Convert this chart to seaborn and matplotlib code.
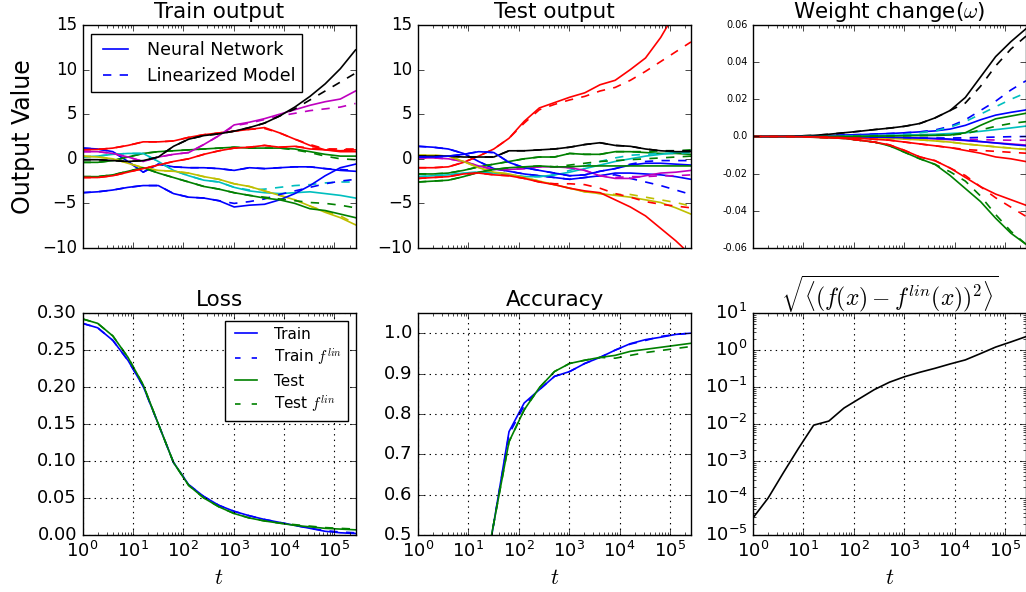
import numpy as np
import pandas as pd
import matplotlib
matplotlib.use('Agg')
import matplotlib.pyplot as plt
from matplotlib.lines import Line2D
import seaborn as sns

plt.style.use('classic')
plt.rcParams['figure.facecolor'] = 'white'
plt.rcParams['savefig.facecolor'] = 'white'
plt.rcParams['font.size'] = 12
plt.rcParams['legend.fancybox'] = False
plt.rcParams['lines.linewidth'] = 1.2

# training steps (powers of two)
steps = [1, 2, 4, 8, 16, 32, 64, 128, 256, 512, 1024, 2048, 4096, 8192,
         16384, 32768, 65536, 131072, 262144]
colors = ['b', 'g', 'r', 'c', 'm', 'y', 'k', 'b', 'g', 'r']

# output of the network on training points, per class
train_nn = [
    [1.2, 1.1, 0.8, -0.3, -1.5, -0.6, -0.9, -1.0, -1.0, -1.1, -1.3, -1.0, -1.1, -1.0, -0.9, -0.9, -1.1, -1.3, -1.4],
    [-0.4, -0.4, -0.2, 0.2, 0.6, 0.8, 0.9, 1.0, 1.1, 1.2, 1.3, 1.2, 1.2, 1.2, 1.1, 0.8, 0.5, 0.3, 0.3],
    [1.0, 1.05, 1.2, 1.5, 1.9, 1.9, 2.0, 2.4, 2.7, 2.9, 3.1, 3.3, 3.5, 2.9, 2.2, 1.5, 1.0, 0.8, 0.8],
    [0.2, 0.3, 0.5, 0.6, 0.6, -0.3, -1.3, -1.9, -2.4, -2.6, -3.2, -3.6, -3.8, -3.9, -3.8, -3.7, -3.9, -4.1, -4.4],
    [0.8, 0.8, 0.6, 0.2, -0.3, 0.2, 0.5, 0.7, 1.6, 2.6, 3.8, 4.1, 4.5, 5.0, 5.5, 6.0, 6.4, 6.7, 7.6],
    [0.3, 0.2, 0.0, -0.5, -1.0, -1.3, -1.4, -1.6, -2.0, -2.3, -2.8, -3.1, -3.6, -4.1, -4.6, -5.3, -6.0, -6.6, -7.4],
    [-0.1, -0.1, -0.2, -0.3, -0.2, 0.2, 1.4, 2.2, 2.6, 2.8, 3.1, 3.5, 4.0, 4.8, 5.8, 7.0, 8.4, 10.1, 12.2],
    [-3.8, -3.7, -3.5, -3.2, -3.0, -3.0, -3.9, -4.3, -4.4, -4.7, -5.4, -5.2, -5.1, -4.6, -3.9, -3.0, -1.9, -1.0, -0.6],
    [-2.0, -2.0, -1.8, -1.4, -1.0, -1.6, -2.1, -2.6, -3.1, -3.4, -3.8, -4.1, -4.4, -4.6, -5.0, -5.6, -5.8, -6.2, -6.6],
    [-2.1, -2.1, -1.9, -1.5, -1.1, -0.7, -0.3, 0.0, 0.5, 0.9, 1.2, 1.3, 1.5, 1.3, 1.4, 1.1, 1.0, 0.9, 1.0],
]
train_lin = [
    [1.2, 1.1, 0.8, -0.3, -1.5, -0.6, -0.9, -1.0, -1.0, -1.1, -1.3, -1.0, -1.1, -1.0, -0.9, -0.9, -1.1, -1.2, -1.3],
    [-0.4, -0.4, -0.2, 0.2, 0.6, 0.8, 0.9, 1.0, 1.1, 1.2, 1.3, 1.2, 1.2, 1.2, 1.0, 0.7, 0.3, 0.0, -0.1],
    [1.0, 1.05, 1.2, 1.5, 1.9, 1.9, 2.0, 2.4, 2.7, 2.9, 3.1, 3.3, 3.4, 2.9, 2.2, 1.6, 1.1, 1.0, 1.0],
    [0.2, 0.3, 0.5, 0.6, 0.6, -0.3, -1.3, -1.9, -2.4, -2.6, -3.2, -3.5, -3.4, -3.2, -3.0, -2.9, -2.7, -2.6, -2.6],
    [0.8, 0.8, 0.6, 0.2, -0.3, 0.2, 0.5, 0.7, 1.6, 2.6, 3.7, 4.0, 4.4, 4.8, 5.1, 5.4, 5.6, 5.8, 6.2],
    [0.3, 0.2, 0.0, -0.5, -1.0, -1.3, -1.4, -1.6, -2.0, -2.3, -2.8, -3.1, -3.6, -4.1, -4.6, -5.3, -5.9, -6.4, -7.3],
    [-0.1, -0.1, -0.2, -0.3, -0.2, 0.2, 1.4, 2.2, 2.6, 2.8, 3.1, 3.5, 4.0, 4.8, 5.6, 6.6, 7.6, 8.6, 9.6],
    [-3.8, -3.7, -3.5, -3.2, -3.0, -3.0, -3.9, -4.3, -4.4, -4.7, -5.0, -4.8, -4.5, -4.0, -3.6, -3.2, -2.8, -2.5, -2.3],
    [-2.0, -2.0, -1.8, -1.4, -1.0, -1.6, -2.1, -2.6, -3.1, -3.4, -3.8, -4.1, -4.3, -4.5, -4.7, -4.9, -5.0, -5.2, -5.5],
    [-2.1, -2.1, -1.9, -1.5, -1.1, -0.7, -0.3, 0.0, 0.5, 0.9, 1.2, 1.3, 1.5, 1.3, 1.4, 1.2, 1.1, 1.1, 1.1],
]

# output on test points
test_nn = [
    [1.4, 1.3, 1.1, 0.6, -0.3, -1.1, -1.4, -1.7, -1.9, -2.1, -2.3, -2.1, -1.9, -1.6, -1.6, -1.7, -1.8, -2.0, -2.3],
    [-1.7, -1.7, -1.6, -1.3, -0.9, -0.6, -0.3, 0.0, 0.2, 0.2, 0.6, 0.5, 0.5, 0.8, 0.8, 0.7, 0.6, 0.6, 0.5],
    [-1.0, -1.0, -0.9, -0.4, 0.3, 1.1, 2.3, 4.2, 5.7, 6.3, 6.9, 7.4, 8.3, 8.8, 10.0, 11.3, 13.6, 16.5, 19.5],
    [-2.0, -1.9, -1.8, -1.6, -1.5, -1.6, -1.8, -2.0, -2.0, -1.8, -1.5, -1.1, -0.7, -0.3, 0.0, 0.3, 0.5, 0.7, 0.9],
    [0.1, 0.1, 0.0, -0.3, -0.8, -1.2, -1.2, -1.1, -0.9, -0.9, -1.0, -1.3, -1.9, -2.2, -2.2, -1.9, -1.6, -1.5, -1.3],
    [0.4, 0.4, 0.3, -0.3, -1.0, -1.5, -1.7, -2.1, -2.5, -2.9, -3.3, -3.7, -3.9, -4.1, -4.3, -4.6, -4.9, -5.5, -6.2],
    [0.3, 0.3, 0.3, 0.2, 0.2, 0.2, 0.9, 0.9, 1.0, 1.1, 1.3, 1.6, 1.8, 1.5, 1.4, 1.1, 0.9, 0.8, 0.8],
    [0.2, 0.2, 0.3, 0.5, 0.8, 0.7, -0.4, -1.0, -1.3, -1.6, -1.9, -1.8, -1.4, -1.1, -0.7, -0.5, -0.5, -0.6, -0.7],
    [-2.6, -2.5, -2.4, -2.0, -1.5, -1.2, -1.0, -0.9, -0.8, -0.9, -0.9, -0.8, -0.8, -0.8, -0.8, -0.8, -0.8, -0.8, -0.8],
    [-2.2, -2.1, -2.0, -1.7, -1.6, -1.8, -1.9, -2.2, -2.6, -2.9, -3.3, -3.6, -3.8, -4.6, -5.4, -6.4, -7.8, -9.2, -10.8],
]
test_lin = [
    [1.4, 1.3, 1.1, 0.6, -0.3, -1.1, -1.4, -1.7, -1.9, -2.1, -2.3, -2.1, -1.9, -1.8, -2.2, -2.6, -3.0, -3.5, -4.0],
    [-1.7, -1.7, -1.6, -1.3, -0.9, -0.6, -0.3, 0.0, 0.2, 0.2, 0.6, 0.5, 0.5, 0.8, 0.8, 0.8, 0.9, 0.9, 1.0],
    [-1.0, -1.0, -0.9, -0.4, 0.3, 1.1, 2.3, 4.0, 5.5, 6.1, 6.6, 7.0, 7.6, 8.0, 8.8, 9.8, 10.9, 12.0, 13.1],
    [-2.0, -1.9, -1.8, -1.6, -1.5, -1.6, -1.8, -2.0, -2.0, -1.8, -1.3, -0.8, -0.3, 0.1, 0.4, 0.5, 0.6, 0.6, 0.7],
    [0.1, 0.1, 0.0, -0.3, -0.8, -1.2, -1.2, -1.1, -0.9, -0.9, -1.0, -1.3, -1.9, -2.1, -2.0, -2.0, -1.9, -1.9, -1.8],
    [0.4, 0.4, 0.3, -0.3, -1.0, -1.5, -1.7, -2.1, -2.5, -2.9, -3.3, -3.7, -3.9, -4.0, -4.0, -4.3, -4.6, -4.9, -5.3],
    [0.3, 0.3, 0.3, 0.2, 0.2, 0.2, 0.9, 0.9, 1.0, 1.1, 1.3, 1.6, 1.8, 1.5, 1.4, 1.1, 0.9, 0.9, 0.9],
    [0.2, 0.2, 0.3, 0.5, 0.8, 0.7, -0.4, -1.0, -1.3, -1.6, -1.9, -1.8, -1.4, -1.1, -0.6, -0.3, -0.2, -0.2, -0.2],
    [-2.6, -2.5, -2.4, -2.0, -1.5, -1.2, -1.0, -0.9, -0.8, -0.9, -0.7, -0.5, -0.3, -0.2, -0.1, 0.0, 0.1, 0.2, 0.3],
    [-2.2, -2.1, -2.0, -1.7, -1.6, -1.8, -1.9, -2.2, -2.6, -2.8, -2.8, -2.9, -3.3, -3.9, -4.3, -4.8, -5.1, -5.3, -5.5],
]

# change of a few weights
weight_nn = [
    [0, 0, 0.0001, 0.0002, 0.0003, 0.0005, 0.0008, 0.001, 0.0013, 0.0016, 0.002, 0.0025, 0.003, 0.004, 0.006, 0.009, 0.0115, 0.013, 0.0143],
    [0, 0, -0.0001, -0.0002, -0.0004, -0.0007, -0.001, -0.002, -0.003, -0.005, -0.0085, -0.012, -0.015, -0.021, -0.028, -0.035, -0.044, -0.052, -0.058],
    [0, 0, -0.0001, -0.0002, -0.0004, -0.0007, -0.001, -0.002, -0.003, -0.0045, -0.0075, -0.011, -0.013, -0.017, -0.022, -0.027, -0.031, -0.034, -0.037],
    [0, 0, 0, 0.0001, 0.0001, 0.0002, 0.0003, 0.0004, 0.0005, 0.0006, 0.0008, 0.001, 0.0012, 0.0016, 0.002, 0.0028, 0.0037, 0.0046, 0.0056],
    [0, 0, 0, 0, -0.0001, -0.0001, -0.0002, -0.0003, -0.0004, -0.0005, -0.0007, -0.001, -0.0013, -0.0017, -0.0022, -0.0028, -0.0034, -0.004, -0.0046],
    [0, 0, 0, -0.0001, -0.0001, -0.0002, -0.0003, -0.0005, -0.0007, -0.001, -0.0014, -0.0018, -0.0024, -0.003, -0.004, -0.0048, -0.0056, -0.0063, -0.007],
    [0, 0, 0.0001, 0.0003, 0.0006, 0.0012, 0.002, 0.0028, 0.0037, 0.0045, 0.0055, 0.007, 0.010, 0.014, 0.021, 0.032, 0.043, 0.051, 0.058],
    [0, 0, 0, 0, 0, -0.0001, -0.0001, -0.0002, -0.0003, -0.0004, -0.0006, -0.0008, -0.001, -0.0014, -0.002, -0.0027, -0.0035, -0.0043, -0.005],
    [0, 0, 0, 0, 0, 0, 0, 0.0001, 0.0002, 0.0003, 0.0004, 0.0005, 0.0006, 0.0008, 0.002, 0.006, 0.0095, 0.011, 0.0125],
    [0, 0, 0, -0.0001, -0.0002, -0.0004, -0.0007, -0.001, -0.0015, -0.002, -0.003, -0.004, -0.005, -0.006, -0.0075, -0.009, -0.011, -0.012, -0.0135],
]
weight_lin = [
    [0, 0, 0.0001, 0.0002, 0.0003, 0.0005, 0.0008, 0.001, 0.0013, 0.0016, 0.002, 0.0025, 0.0035, 0.0055, 0.009, 0.014, 0.019, 0.025, 0.030],
    [0, 0, -0.0001, -0.0002, -0.0004, -0.0007, -0.001, -0.002, -0.003, -0.005, -0.0085, -0.012, -0.015, -0.019, -0.024, -0.032, -0.042, -0.051, -0.058],
    [0, 0, -0.0001, -0.0002, -0.0004, -0.0007, -0.001, -0.002, -0.003, -0.0045, -0.0075, -0.011, -0.013, -0.017, -0.021, -0.027, -0.033, -0.038, -0.043],
    [0, 0, 0, 0.0001, 0.0001, 0.0002, 0.0003, 0.0004, 0.0005, 0.0006, 0.001, 0.002, 0.003, 0.005, 0.008, 0.012, 0.016, 0.020, 0.0235],
    [0, 0, 0, 0, -0.0001, -0.0001, -0.0002, -0.0003, -0.0004, -0.0005, -0.0007, -0.001, -0.0012, -0.0014, -0.0015, -0.0017, -0.0019, -0.002, -0.002],
    [0, 0, 0, -0.0001, -0.0001, -0.0002, -0.0003, -0.0005, -0.0007, -0.001, -0.0014, -0.0018, -0.0024, -0.003, -0.004, -0.0048, -0.0055, -0.0062, -0.0068],
    [0, 0, 0.0001, 0.0003, 0.0006, 0.0012, 0.002, 0.0028, 0.0037, 0.0045, 0.0055, 0.007, 0.010, 0.014, 0.018, 0.027, 0.038, 0.047, 0.054],
    [0, 0, 0, 0, 0, -0.0001, -0.0001, -0.0002, -0.0003, -0.0004, -0.0006, -0.0008, -0.0008, -0.0008, -0.0007, -0.0005, -0.0003, -0.0001, 0.0],
    [0, 0, 0, 0, 0, 0, 0, 0.0001, 0.0002, 0.0003, 0.0004, 0.0005, 0.0006, 0.0008, 0.0015, 0.0035, 0.0055, 0.007, 0.008],
    [0, 0, 0, -0.0001, -0.0002, -0.0004, -0.0007, -0.001, -0.0015, -0.002, -0.003, -0.004, -0.005, -0.006, -0.007, -0.0075, -0.008, -0.0085, -0.009],
]
weight_ticks = [0.06, 0.04, 0.02, 0.0, -0.02, -0.04, -0.06]
weight_labels = ['0.06', '0.04', '0.02', '0.0', '-0.02', '-0.04', '-0.06']

loss_train = [0.286, 0.280, 0.263, 0.236, 0.201, 0.150, 0.098, 0.068, 0.052, 0.040, 0.032, 0.026, 0.021, 0.017, 0.013, 0.009, 0.005, 0.003, 0.002]
loss_train_lin = [0.286, 0.280, 0.263, 0.236, 0.201, 0.150, 0.098, 0.068, 0.052, 0.040, 0.032, 0.026, 0.021, 0.017, 0.013, 0.009, 0.006, 0.004, 0.003]
loss_test = [0.292, 0.286, 0.269, 0.240, 0.203, 0.150, 0.098, 0.067, 0.050, 0.038, 0.029, 0.023, 0.019, 0.016, 0.013, 0.011, 0.009, 0.008, 0.007]
loss_test_lin = [0.292, 0.286, 0.269, 0.240, 0.203, 0.150, 0.098, 0.067, 0.050, 0.038, 0.029, 0.023, 0.019, 0.016, 0.014, 0.012, 0.010, 0.009, 0.008]

acc_train = [0.1, 0.1, 0.1, 0.1, 0.31, 0.53, 0.756, 0.827, 0.86, 0.893, 0.905, 0.925, 0.94, 0.958, 0.974, 0.984, 0.99, 0.997, 1.0]
acc_train_lin = [0.1, 0.1, 0.1, 0.1, 0.31, 0.53, 0.75, 0.82, 0.86, 0.893, 0.905, 0.925, 0.94, 0.958, 0.973, 0.982, 0.992, 0.997, 1.0]
acc_test = [0.1, 0.1, 0.1, 0.1, 0.33, 0.53, 0.731, 0.81, 0.865, 0.905, 0.925, 0.933, 0.94, 0.945, 0.955, 0.96, 0.965, 0.97, 0.975]
acc_test_lin = [0.1, 0.1, 0.1, 0.1, 0.33, 0.53, 0.731, 0.81, 0.865, 0.905, 0.925, 0.933, 0.94, 0.938, 0.945, 0.952, 0.957, 0.962, 0.967]

rms_diff = [2.9e-5, 1.0e-4, 4.8e-4, 2.2e-3, 9.3e-3, 1.2e-2, 2.7e-2, 4.8e-2, 8.5e-2, 0.135, 0.19, 0.25, 0.32, 0.42, 0.54, 0.8, 1.2, 1.65, 2.3]

fig = plt.figure(figsize=(10.26, 5.92), dpi=100)
W, H = 1026, 592
def box(l, t, r, b):
    return [l / W, 1 - b / H, (r - l) / W, (b - t) / H]

lefts = [82.5, 418, 753]
width = 273
ax_tl = fig.add_axes(box(lefts[0], 25, lefts[0] + width, 248))
ax_tm = fig.add_axes(box(lefts[1], 25, lefts[1] + width, 248))
ax_tr = fig.add_axes(box(lefts[2], 25, lefts[2] + width, 248))
ax_bl = fig.add_axes(box(lefts[0], 313, lefts[0] + width, 535))
ax_bm = fig.add_axes(box(lefts[1], 313, lefts[1] + width, 535))
ax_br = fig.add_axes(box(lefts[2], 313, lefts[2] + width, 535))

def draw(ax, y, color, ls):
    sns.lineplot(x=steps, y=y, ax=ax, color=color, linestyle=ls, lw=1.2,
                 legend=False)

for ax, nn, lin in [(ax_tl, train_nn, train_lin), (ax_tm, test_nn, test_lin),
                    (ax_tr, weight_nn, weight_lin)]:
    for i in range(10):
        draw(ax, nn[i], colors[i], '-')
        draw(ax, lin[i], colors[i], '--')

for ax in [ax_tl, ax_tm]:
    ax.set_ylim(-10, 15)
    ax.set_yticks([-10, -5, 0, 5, 10, 15])
    ax.tick_params(axis='y', labelsize=12)
ax_tr.set_ylim(-0.06, 0.06)
ax_tr.set_yticks(weight_ticks)
ax_tr.set_yticklabels(weight_labels, fontsize=7)

ax_tl.set_title('Train output', fontsize=15.5)
ax_tm.set_title('Test output', fontsize=15.5)
ax_tr.set_title(r'Weight change($\omega$)', fontsize=15.5)
ax_tl.set_ylabel('Output Value', fontsize=17)

ax_tl.legend([Line2D([], [], color='b', lw=1.2, ls='-'),
              Line2D([], [], color='b', lw=1.2, ls='--')],
             ['Neural Network', 'Linearized Model'], loc='upper left',
             fontsize=12.5, numpoints=2)

draw(ax_bl, loss_train, 'b', '-')
draw(ax_bl, loss_train_lin, 'b', '--')
draw(ax_bl, loss_test, 'g', '-')
draw(ax_bl, loss_test_lin, 'g', '--')
ax_bl.set_ylim(0, 0.30)
ax_bl.set_yticks([0, 0.05, 0.10, 0.15, 0.20, 0.25, 0.30])
ax_bl.set_title('Loss', fontsize=15.5)
ax_bl.legend([Line2D([], [], color='b', lw=1.2, ls='-'),
              Line2D([], [], color='b', lw=1.2, ls=(0, (4, 8))),
              Line2D([], [], color='g', lw=1.2, ls='-'),
              Line2D([], [], color='g', lw=1.2, ls=(0, (4, 8)))],
             ['Train', r'Train $f^{lin}$', 'Test', r'Test $f^{lin}$'],
             loc='upper right', fontsize=11, labelspacing=0.35)

draw(ax_bm, acc_train, 'b', '-')
draw(ax_bm, acc_train_lin, 'b', '--')
draw(ax_bm, acc_test, 'g', '-')
draw(ax_bm, acc_test_lin, 'g', '--')
ax_bm.set_ylim(0.5, 1.05)
ax_bm.set_yticks([0.5, 0.6, 0.7, 0.8, 0.9, 1.0])
ax_bm.set_title('Accuracy', fontsize=15.5)

draw(ax_br, rms_diff, 'k', '-')
ax_br.set_yscale('log')
ax_br.set_ylim(1e-5, 10)
ax_br.set_title(r'$\sqrt{\langle (f(x) - f^{lin}(x))^2 \rangle}$', fontsize=17)

for ax in [ax_tl, ax_tm, ax_tr, ax_bl, ax_bm, ax_br]:
    ax.set_xscale('log')
    ax.set_xlim(1, steps[-1])
    ax.set_xlabel('')
for ax in [ax_tl, ax_tm, ax_tr]:
    ax.set_xticklabels([])
for ax in [ax_bl, ax_bm, ax_br]:
    ax.grid(True, which='major', color='k', linestyle=':', linewidth=0.8)
    ax.tick_params(axis='both', labelsize=13)
    ax.set_xlabel('$t$', fontsize=16)

fig.savefig('out.png', dpi=100)
